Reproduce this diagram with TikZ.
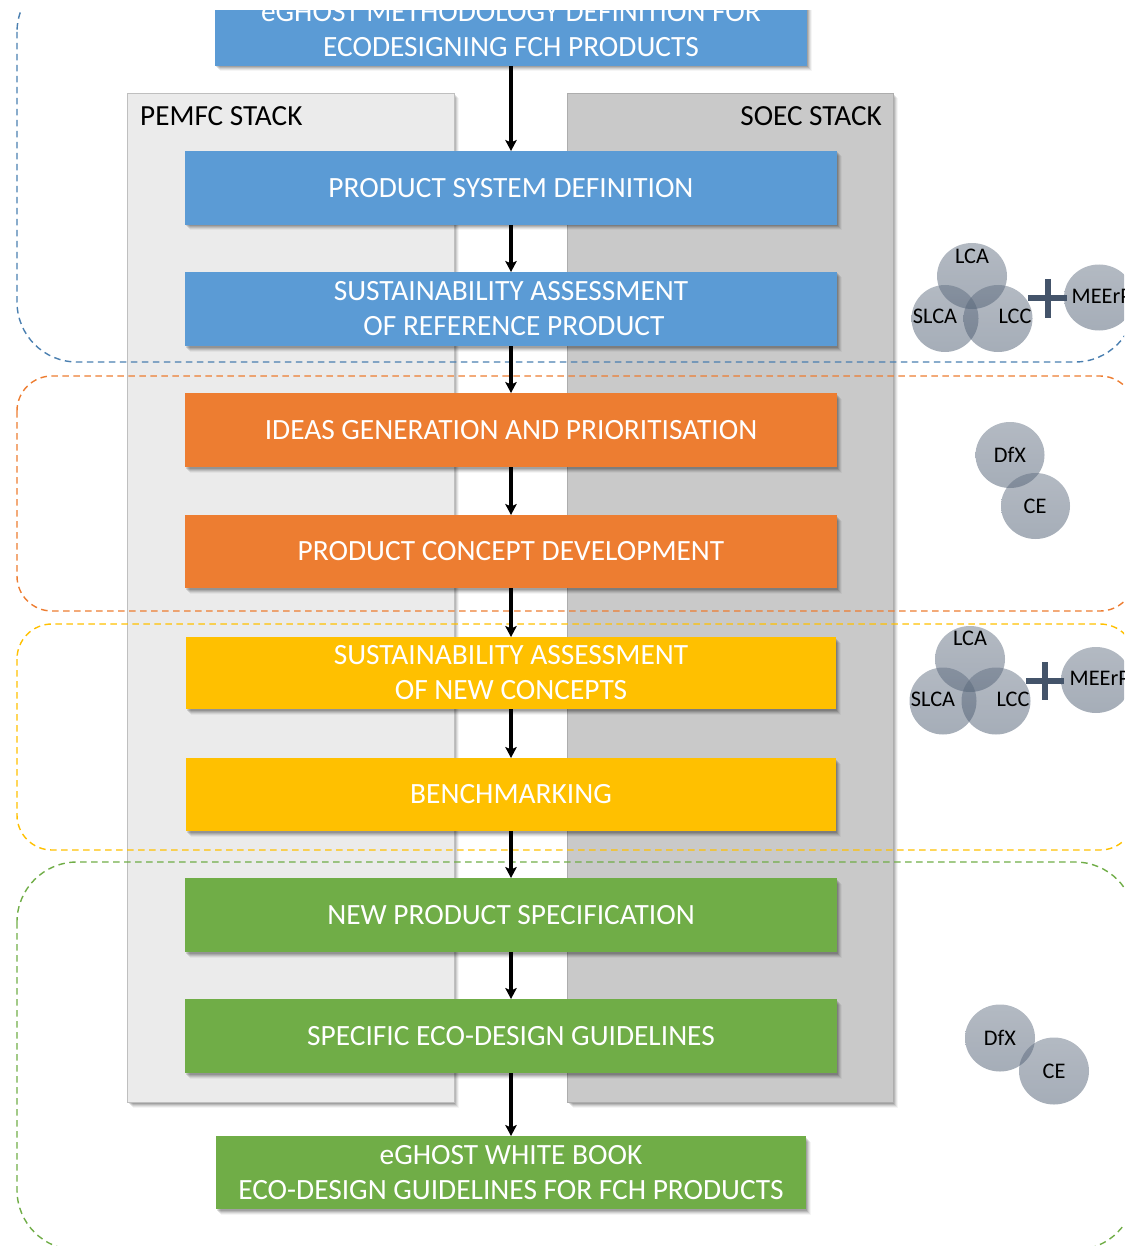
\documentclass[tikz,border=0pt]{standalone}
\usepackage{fontspec}
\setmainfont{Carlito}
\usetikzlibrary{shapes.geometric,arrows.meta,shadows}
\definecolor{cblue}{HTML}{5B9BD5}
\definecolor{corange}{HTML}{ED7D31}
\definecolor{cyellow}{HTML}{FFC000}
\definecolor{cgreen}{HTML}{70AD47}
\definecolor{dblue}{HTML}{4A7FB0}
\definecolor{slatec}{HTML}{44546A}
\tikzset{
  softshadow/.style={
    drop shadow={shadow xshift=1pt,shadow yshift=-1.5pt,opacity=.12,fill=black},
    drop shadow={shadow xshift=2pt,shadow yshift=-2.5pt,opacity=.11,fill=black},
    drop shadow={shadow xshift=3pt,shadow yshift=-3.5pt,opacity=.09,fill=black},
    drop shadow={shadow xshift=4pt,shadow yshift=-4.5pt,opacity=.07,fill=black},
    drop shadow={shadow xshift=5pt,shadow yshift=-5.5pt,opacity=.04,fill=black}},
  panel/.style={rectangle,draw=#1,line width=.8pt,inner sep=0pt,outer sep=0pt,softshadow},
  stepbox/.style={rectangle,fill=#1,draw=none,inner sep=0pt,outer sep=0pt,text=white,align=center,
    font=\fontsize{29.4}{35}\selectfont,softshadow},
  zone/.style={draw=#1,line width=1.4pt,dash pattern=on 6.5pt off 4.5pt},
  flow/.style={-{Stealth[length=11pt,width=11.5pt,inset=2.5pt]},line width=3.8pt,black},
  disc/.style={ellipse,inner sep=0pt,outer sep=0pt,draw=none,top color=slatec!85!white,bottom color=slatec!100!black,fill opacity=.48},
  plusbar/.style={line width=6pt,draw=slatec},
  disclabel/.style={font=\fontsize{22.3}{24}\selectfont,text=black,inner sep=0pt},
  paneltitle/.style={font=\fontsize{29.2}{32}\selectfont,text=black,inner sep=0pt}
}
\begin{document}
\begin{tikzpicture}[x=1pt,y=-1pt]
\useasboundingbox (0,0) rectangle (1124,1246);
\begin{scope}
\clip (0,11) rectangle (1124,1246);
% panels
\node[panel=black!25,fill=black!8,minimum width=326.5pt,minimum height=1009pt] (pemfc) at (291,597.5) {};
\node[panel=black!32,fill=black!21,minimum width=325.5pt,minimum height=1009pt] (soec) at (730.5,597.5) {};
\node[paneltitle,anchor=west] (pemfct) at (140,116) {PEMFC STACK};
\node[paneltitle,anchor=east] (soect) at (882,116) {SOEC STACK};
% dashed zones
\draw[zone=dblue,rounded corners=60pt] (17,-28) rectangle (1135,362);
\draw[zone=corange,rounded corners=35pt] (17,376) rectangle (1135,611);
\draw[zone=cyellow,rounded corners=35pt] (17,624) rectangle (1135,850);
\draw[zone=cgreen,rounded corners=60pt] (17,862) rectangle (1135,1250);
% steps
\node[stepbox=cblue,minimum width=592pt,minimum height=73pt] (a) at (511,29.5) {eGHOST METHODOLOGY DEFINITION FOR\\ECODESIGNING FCH PRODUCTS};
\node[stepbox=cblue,minimum width=652pt,minimum height=74pt] (b) at (511,188) {PRODUCT SYSTEM DEFINITION};
\node[stepbox=cblue,minimum width=652pt,minimum height=74pt] (c) at (511,309) {SUSTAINABILITY ASSESSMENT\\\hspace{6pt}OF REFERENCE PRODUCT};
\node[stepbox=corange,minimum width=652pt,minimum height=74pt] (d) at (511,430) {\raisebox{-1pt}{IDEAS GENERATION AND PRIORITISATION}};
\node[stepbox=corange,minimum width=652pt,minimum height=73pt] (e) at (511,551.5) {\raisebox{-1pt}{PRODUCT CONCEPT DEVELOPMENT}};
\node[stepbox=cyellow,minimum width=650pt,minimum height=72pt] (f) at (511,673) {SUSTAINABILITY ASSESSMENT\\OF NEW CONCEPTS};
\node[stepbox=cyellow,minimum width=650pt,minimum height=73pt] (g) at (511,794.5) {BENCHMARKING};
\node[stepbox=cgreen,minimum width=652pt,minimum height=74pt] (h) at (511,915) {NEW PRODUCT SPECIFICATION};
\node[stepbox=cgreen,minimum width=652pt,minimum height=74pt] (i) at (511,1036) {\raisebox{-1pt}{SPECIFIC ECO-DESIGN GUIDELINES}};
\node[stepbox=cgreen,minimum width=590pt,minimum height=73pt] (j) at (511,1172.5) {eGHOST WHITE BOOK\\ECO-DESIGN GUIDELINES FOR FCH PRODUCTS};
% arrows
\foreach \p/\q in {a/b,b/c,c/d,d/e,e/f,f/g,g/h,h/i,i/j}
  \draw[flow] (\p.south) -- (\q.north);
% first method group
\node[disc,minimum width=70pt,minimum height=66pt] (lca1) at (972,276) {};
\node[disc,minimum width=67pt,minimum height=67pt] (slca1) at (945,318.5) {};
\node[disc,minimum width=69pt,minimum height=67pt] (lcc1) at (998,318.5) {};
\node[disc,minimum width=70pt,minimum height=66pt] (meer1) at (1099,297.5) {};
\node[disclabel] (lca1t) at (972,256) {LCA};
\node[disclabel] (slca1t) at (935,316.5) {SLCA};
\node[disclabel] (lcc1t) at (1015,316.5) {LCC};
\node[disclabel,anchor=west] (meer1t) at (1071.5,296) {MEErP};
\coordinate (p1l) at (1028,298); \coordinate (p1r) at (1067,298);
\coordinate (p1t) at (1047.5,279); \coordinate (p1b) at (1047.5,318);
\draw[plusbar] (p1l) -- (p1r);
\draw[plusbar] (p1t) -- (p1b);
% DfX/CE group 1
\node[disc,minimum width=69pt,minimum height=66pt] (dfx1) at (1010,455) {};
\node[disc,minimum width=69pt,minimum height=66pt] (ce1) at (1035.5,506) {};
\node[disclabel] (dfx1t) at (1010,455) {DfX};
\node[disclabel] (ce1t) at (1035,506) {CE};
% second method group
\node[disc,minimum width=70pt,minimum height=66pt] (lca2) at (970,659) {};
\node[disc,minimum width=67pt,minimum height=67pt] (slca2) at (943,701) {};
\node[disc,minimum width=69pt,minimum height=67pt] (lcc2) at (996,701) {};
\node[disc,minimum width=70pt,minimum height=66pt] (meer2) at (1096,680) {};
\node[disclabel] (lca2t) at (970,638.5) {LCA};
\node[disclabel] (slca2t) at (933,699) {SLCA};
\node[disclabel] (lcc2t) at (1013,699) {LCC};
\node[disclabel,anchor=west] (meer2t) at (1069.5,678) {MEErP};
\coordinate (p2l) at (1026,681); \coordinate (p2r) at (1064,681);
\coordinate (p2t) at (1045,662); \coordinate (p2b) at (1045,700);
\draw[plusbar] (p2l) -- (p2r);
\draw[plusbar] (p2t) -- (p2b);
% DfX/CE group 2
\node[disc,minimum width=70pt,minimum height=67pt] (dfx2) at (1000,1038) {};
\node[disc,minimum width=70pt,minimum height=67pt] (ce2) at (1054,1071) {};
\node[disclabel] (dfx2t) at (1000,1038) {DfX};
\node[disclabel] (ce2t) at (1054,1071) {CE};
\end{scope}
\end{tikzpicture}
\end{document}
